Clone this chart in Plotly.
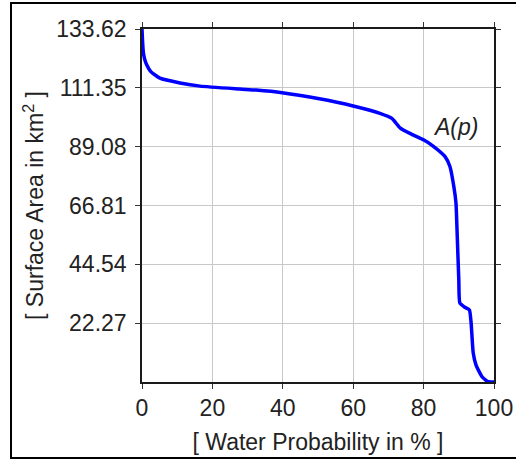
import plotly.graph_objects as go

# Water probability (%) vs. flooded surface area (km²)
probability = [0, 0.2, 0.4, 0.8, 1.3, 2.5, 5.1, 10.8, 16.5, 27.8, 32.4, 39.8, 50, 60,
               67.6, 71, 73.3, 76.1, 80.1, 82.7, 86.1, 87.5, 88.6, 89.2, 89.5, 90,
               90.3, 91.6, 93, 93.5, 94.1, 94.9, 96.6, 98.3, 100]
area = [133.62, 128, 124.5, 122, 120.2, 117.5, 115, 113.2, 112, 110.9, 110.5, 109.5,
        107.3, 104.5, 101.7, 99.8, 96.2, 94.1, 91.6, 89.3, 85.3, 81.5, 73.9, 67.7,
        57.5, 38.6, 29.9, 28.4, 27.3, 22.3, 11, 6.4, 2, 0.1, 0]

x_ticks = [0, 20, 40, 60, 80, 100]
y_ticks = [22.27, 44.54, 66.81, 89.08, 111.35, 133.62]
y_tick_labels = ["22.27", "44.54", "66.81", "89.08", "111.35", "133.62"]

font = dict(family="Liberation Sans, Arial, sans-serif", size=23, color="#222222")

fig = go.Figure()
fig.add_trace(go.Scatter(
    x=probability, y=area, mode="lines",
    line=dict(color="#0000ff", width=3.5, shape="spline", smoothing=0.5),
    hoverinfo="skip", showlegend=False,
))

fig.add_annotation(x=89, y=96.5, text="<i>A(p)</i>", showarrow=False, font=font)

# Frame around the whole figure (open on the right edge)
W, H = 516, 461
L, R, T, B = 142, 22, 29, 79
pw, ph = W - L - R, H - T - B
def px(x):
    return (x - L) / pw
def py(y):
    return (H - B - y) / ph
fig.add_shape(type="rect", xref="paper", yref="paper",
              x0=px(11), x1=px(540), y0=py(458), y1=py(3),
              line=dict(color="black", width=2), layer="above")

axis_common = dict(
    showline=True, linecolor="#1a1a1a", linewidth=1.5, mirror="ticks",
    ticks="outside", ticklen=5, tickcolor="#333333", tickwidth=1,
    showgrid=True, gridcolor="#c8c8c8", gridwidth=1,
    zeroline=False, tickfont=font,
)

fig.update_xaxes(range=[0, 100], tickvals=x_ticks, ticktext=[str(v) for v in x_ticks],
                 title=dict(text="[ Water Probability in % ]", font=font, standoff=14),
                 **axis_common)
fig.update_yaxes(range=[0, 133.62], tickvals=y_ticks, ticktext=y_tick_labels,
                 ticklabelstandoff=4,
                 title=dict(text="[ Surface Area in km<sup>2</sup> ]", font=font, standoff=6),
                 **axis_common)

fig.update_layout(
    width=W, height=H,
    margin=dict(l=L, r=R, t=T, b=B, autoexpand=False),
    paper_bgcolor="white", plot_bgcolor="white",
)

fig.write_html("out.html")
